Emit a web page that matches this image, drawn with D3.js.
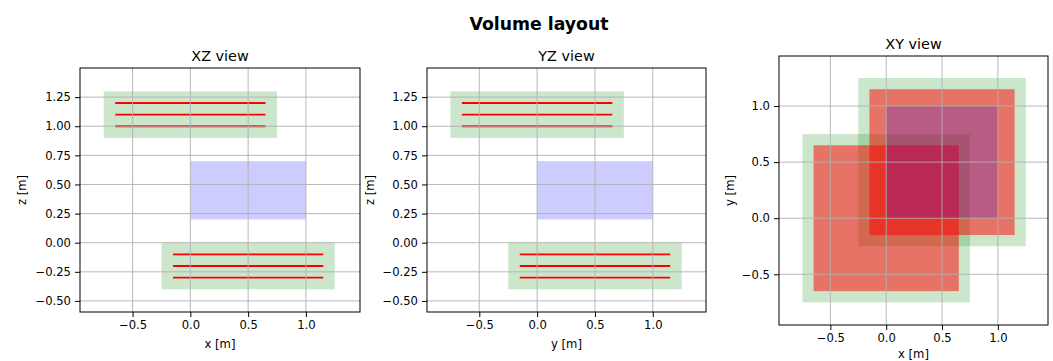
<!DOCTYPE html>
<html>
<head>
<meta charset="utf-8">
<script src="https://cdn.jsdelivr.net/npm/d3@7"></script>
<style>
  body { margin: 0; background: #fff; }
  svg { font-family: "DejaVu Sans", sans-serif; }
</style>
</head>
<body>
<div id="chart"></div>
<script>
// coils: red conductor extents, green keep-out region extents
const coilX = [[-0.65, 0.65], [-0.15, 1.15]];
const coilY = [[-0.65, 0.65], [-0.15, 1.15]];
const coilLayersZ = [[1.0, 1.1, 1.2], [-0.1, -0.2, -0.3]];
const regionX = [[-0.75, 0.75], [-0.25, 1.25]];
const regionY = [[-0.75, 0.75], [-0.25, 1.25]];
const regionZ = [[0.9, 1.3], [-0.4, 0.0]];
// target volume
const volumeX = [0, 1];
const volumeY = [0, 1];
const volumeZ = [0.2, 0.7];

const ticksHoriz = [-0.5, 0, 0.5, 1.0];
const ticksZ = [-0.5, -0.25, 0, 0.25, 0.5, 0.75, 1.0, 1.25];
const ticksXY = [-0.5, 0, 0.5, 1.0];

const W = 1053, H = 361;
const svg = d3.select("#chart").append("svg").attr("width", W).attr("height", H);

svg.append("text")
  .attr("x", 539).attr("y", 30)
  .attr("text-anchor", "middle")
  .style("font-size", "17.3px").style("font-weight", "bold")
  .text("Volume layout");

function makePanel(cfg, idx) {
  const x = d3.scaleLinear().domain(cfg.xDomain).range([cfg.left, cfg.right]);
  const y = d3.scaleLinear().domain(cfg.yDomain).range([cfg.bottom, cfg.top]);
  const g = svg.append("g");
  const clipId = "clip" + idx;
  g.append("clipPath").attr("id", clipId).append("rect")
    .attr("x", cfg.left).attr("y", cfg.top)
    .attr("width", cfg.right - cfg.left).attr("height", cfg.bottom - cfg.top);

  const plot = g.append("g").attr("clip-path", "url(#" + clipId + ")");
  const rect = (sel, xs, ys, fill, op) => sel.append("rect")
    .attr("x", x(xs[0])).attr("y", y(ys[1]))
    .attr("width", x(xs[1]) - x(xs[0])).attr("height", y(ys[0]) - y(ys[1]))
    .attr("fill", fill).attr("fill-opacity", op);

  cfg.draw(plot, rect, x, y);

  // grid on top of patches
  const grid = g.append("g").attr("stroke", "#b0b0b0").attr("stroke-width", 0.9);
  cfg.xTicks.forEach(t => grid.append("line")
    .attr("x1", x(t)).attr("x2", x(t)).attr("y1", cfg.top).attr("y2", cfg.bottom));
  cfg.yTicks.forEach(t => grid.append("line")
    .attr("x1", cfg.left).attr("x2", cfg.right).attr("y1", y(t)).attr("y2", y(t)));

  if (cfg.lines) cfg.lines(plot, x, y);

  g.append("rect")
    .attr("x", cfg.left).attr("y", cfg.top)
    .attr("width", cfg.right - cfg.left).attr("height", cfg.bottom - cfg.top)
    .attr("fill", "none").attr("stroke", "#000").attr("stroke-width", 1);

  const xa = g.append("g").attr("transform", "translate(0," + cfg.bottom + ")")
    .call(d3.axisBottom(x).tickValues(cfg.xTicks).tickFormat(d3.format(".1f")).tickSize(5).tickPadding(4));
  const ya = g.append("g").attr("transform", "translate(" + cfg.left + ",0)")
    .call(d3.axisLeft(y).tickValues(cfg.yTicks).tickFormat(d3.format(cfg.yFmt)).tickSize(5).tickPadding(4));
  [xa, ya].forEach(a => {
    a.select(".domain").remove();
    a.selectAll("text").style("font-size", "11.6px").attr("fill", "#000")
      .style("font-family", "DejaVu Sans, sans-serif");
    a.selectAll("line").attr("stroke", "#000");
  });

  g.append("text")
    .attr("x", (cfg.left + cfg.right) / 2).attr("y", cfg.top - 7)
    .attr("text-anchor", "middle").style("font-size", "14.4px")
    .text(cfg.title);
  g.append("text")
    .attr("x", (cfg.left + cfg.right) / 2).attr("y", cfg.bottom + cfg.xLabelOff)
    .attr("text-anchor", "middle").style("font-size", "11.6px")
    .text(cfg.xLabel);
  g.append("text")
    .attr("transform", "translate(" + (cfg.left - cfg.yLabelOff) + "," + ((cfg.top + cfg.bottom) / 2) + ") rotate(-90)")
    .attr("text-anchor", "middle").attr("dy", "0.35em").style("font-size", "11.6px")
    .text(cfg.yLabel);
}

function sideView(horiz) {
  return {
    draw: (plot, rect) => {
      rect(plot, volumeX, volumeZ, "#0000ff", 0.2);
      regionZ.forEach((zs, i) => rect(plot, horiz.region[i], zs, "#008000", 0.2));
    },
    lines: (plot, x, y) => {
      coilLayersZ.forEach((layers, i) => {
        layers.forEach(z => plot.append("line")
          .attr("x1", x(horiz.coil[i][0])).attr("x2", x(horiz.coil[i][1]))
          .attr("y1", y(z)).attr("y2", y(z))
          .attr("stroke", "#ff0000").attr("stroke-width", 1.9));
      });
    }
  };
}

makePanel(Object.assign({
  left: 80, right: 360, top: 68, bottom: 312,
  xDomain: [-0.955, 1.468], yDomain: [-0.595, 1.50],
  xTicks: ticksHoriz, yTicks: ticksZ, yFmt: ".2f",
  title: "XZ view", xLabel: "x [m]", yLabel: "z [m]", yLabelOff: 58, xLabelOff: 36
}, sideView({ coil: coilX, region: regionX })), 0);

makePanel(Object.assign({
  left: 427, right: 706, top: 68, bottom: 312,
  xDomain: [-0.952, 1.46], yDomain: [-0.595, 1.50],
  xTicks: ticksHoriz, yTicks: ticksZ, yFmt: ".2f",
  title: "YZ view", xLabel: "y [m]", yLabel: "z [m]", yLabelOff: 57, xLabelOff: 36
}, sideView({ coil: coilY, region: regionY })), 1);

makePanel({
  left: 779, right: 1048, top: 56, bottom: 325,
  xDomain: [-0.96, 1.449], yDomain: [-0.952, 1.446],
  xTicks: ticksXY, yTicks: ticksXY, yFmt: ".1f",
  title: "XY view", xLabel: "x [m]", yLabel: "y [m]", yLabelOff: 49, xLabelOff: 33,
  draw: (plot, rect) => {
    regionX.forEach((xs, i) => rect(plot, xs, regionY[i], "#008000", 0.2));
    coilX.forEach((xs, i) => rect(plot, xs, coilY[i], "#ff0000", 0.5));
    rect(plot, volumeX, volumeY, "#0000ff", 0.2);
  }
}, 2);
</script>
</body>
</html>
